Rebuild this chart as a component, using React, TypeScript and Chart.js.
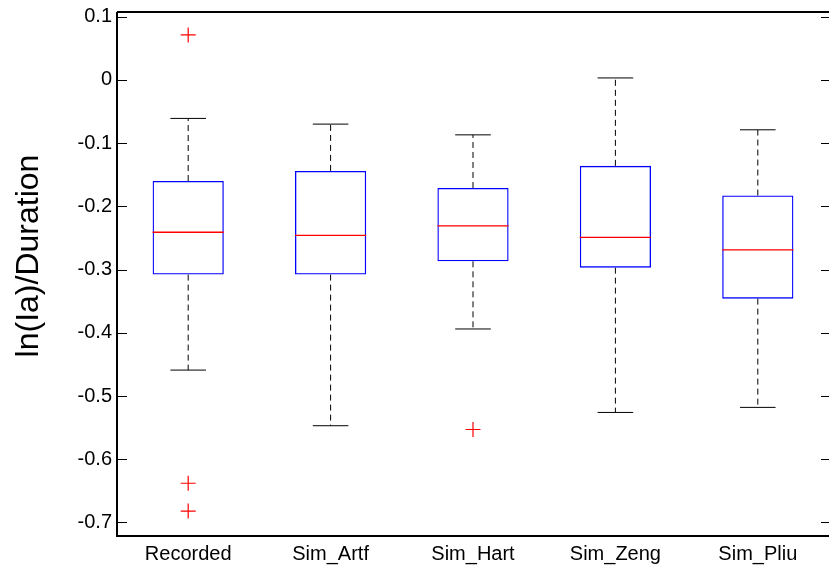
import React, { useEffect, useRef } from "react";
import { Chart, registerables } from "chart.js";

Chart.register(...registerables);

const categories = ["Recorded", "Sim_Artf", "Sim_Hart", "Sim_Zeng", "Sim_Pliu"];
const lowerWhisker = [-0.459, -0.547, -0.394, -0.526, -0.518];
const q1 = [-0.308, -0.308, -0.287, -0.297, -0.346];
const median = [-0.241, -0.246, -0.231, -0.249, -0.269];
const q3 = [-0.160, -0.144, -0.171, -0.136, -0.183];
const upperWhisker = [-0.061, -0.070, -0.087, 0.003, -0.079];
const outliers: number[][] = [[0.071, -0.638, -0.682], [], [-0.553], [], []];
const yTickValues = [0.1, 0, -0.1, -0.2, -0.3, -0.4, -0.5, -0.6, -0.7];
const yTitle = "ln(Ia)/Duration";

const FONT = "'Liberation Sans', Arial, sans-serif";

export default function App() {
  const ref = useRef<HTMLCanvasElement>(null);
  useEffect(() => {
    if (!ref.current) return;
    const whiskerData: any[] = [];
    const capData: any[] = [];
    const medianData: any[] = [];
    categories.forEach((_, i) => {
      const x = i + 1;
      whiskerData.push({ x, y: q3[i] }, { x, y: upperWhisker[i] }, { x, y: null });
      whiskerData.push({ x, y: q1[i] }, { x, y: lowerWhisker[i] }, { x, y: null });
      capData.push({ x: x - 0.125, y: upperWhisker[i] }, { x: x + 0.125, y: upperWhisker[i] }, { x, y: null });
      capData.push({ x: x - 0.125, y: lowerWhisker[i] }, { x: x + 0.125, y: lowerWhisker[i] }, { x, y: null });
      medianData.push({ x: x - 0.25, y: median[i] }, { x: x + 0.25, y: median[i] }, { x, y: null });
    });
    const outlierData: any[] = [];
    outliers.forEach((arr, i) => arr.forEach((v) => outlierData.push({ x: i + 1, y: v })));

    const axesPlugin = {
      id: "matlabAxes",
      afterDatasetsDraw(chart: any) {
        const { ctx, chartArea } = chart;
        const ys = chart.scales.y;
        ctx.save();
        ctx.strokeStyle = "#000";
        ctx.lineWidth = 1;
        yTickValues.forEach((v) => {
          const py = Math.round(ys.getPixelForValue(v)) + 0.5;
          ctx.beginPath();
          ctx.moveTo(chartArea.left, py);
          ctx.lineTo(chartArea.left + 10, py);
          ctx.moveTo(chartArea.right + 1, py);
          ctx.lineTo(chartArea.right - 8, py);
          ctx.stroke();
        });
        ctx.lineWidth = 2;
        ctx.beginPath();
        ctx.moveTo(chartArea.left, chartArea.top);
        ctx.lineTo(chartArea.right + 2, chartArea.top);
        ctx.moveTo(chartArea.left, chartArea.top);
        ctx.lineTo(chartArea.left, chartArea.bottom);
        ctx.moveTo(chartArea.left - 1, chartArea.bottom);
        ctx.lineTo(chartArea.right + 2, chartArea.bottom);
        ctx.stroke();
        // y axis title
        ctx.translate(38, 256);
        ctx.rotate(-Math.PI / 2);
        ctx.fillStyle = "#000";
        ctx.font = `32px ${FONT}`;
        ctx.textAlign = "center";
        ctx.textBaseline = "alphabetic";
        ctx.fillText(yTitle, 0, 0);
        ctx.restore();
      },
    };

    const chart = new Chart(ref.current, {
      type: "bar",
      data: {
        datasets: [
          {
            type: "line",
            data: whiskerData,
            borderColor: "#000",
            borderWidth: 1,
            borderDash: [6, 4],
            pointRadius: 0,
            spanGaps: false,
            fill: false,
            order: 5,
          } as any,
          {
            type: "line",
            data: capData,
            borderColor: "#000",
            borderWidth: 1,
            pointRadius: 0,
            spanGaps: false,
            fill: false,
            order: 4,
          } as any,
          {
            type: "bar",
            data: categories.map((_, i) => ({ x: i + 1, y: [q1[i], q3[i]] })),
            borderColor: "#0000ff",
            borderWidth: 1.3,
            backgroundColor: "rgba(0,0,0,0)",
            borderSkipped: false,
            barPercentage: 0.5,
            categoryPercentage: 1,
            order: 3,
          } as any,
          {
            type: "line",
            data: medianData,
            borderColor: "#ff0000",
            borderWidth: 1.3,
            pointRadius: 0,
            spanGaps: false,
            fill: false,
            order: 2,
          } as any,
          {
            type: "scatter",
            data: outlierData,
            pointStyle: "cross",
            pointRadius: 7.5,
            borderColor: "#ff0000",
            borderWidth: 1.2,
            order: 1,
          } as any,
        ],
      },
      options: {
        responsive: false,
        animation: false,
        layout: { autoPadding: false, padding: { top: 12, left: 0, right: 0, bottom: 0 } },
        plugins: { legend: { display: false }, tooltip: { enabled: false } },
        scales: {
          x: {
            type: "linear",
            min: 0.5,
            max: 5.5,
            offset: false,
            grid: { display: false, drawTicks: false, offset: false },
            border: { display: false },
            afterBuildTicks: (scale: any) => {
              scale.ticks = categories.map((_, i) => ({ value: i + 1 }));
            },
            afterFit: (scale: any) => {
              scale.height = 30;
              scale.paddingLeft = 0;
              scale.paddingRight = 0;
            },
            ticks: {
              autoSkip: false,
              maxRotation: 0,
              padding: 6,
              color: "#000",
              font: { family: FONT, size: 20 },
              callback: (v: any) => categories[Math.round(Number(v)) - 1] ?? "",
            },
          },
          y: {
            type: "linear",
            min: -0.7214,
            max: 0.1073,
            grid: { display: false, drawTicks: false },
            border: { display: false },
            afterBuildTicks: (scale: any) => {
              scale.ticks = yTickValues.map((v) => ({ value: v }));
            },
            afterFit: (scale: any) => {
              scale.width = 117;
              scale.paddingTop = 0;
              scale.paddingBottom = 0;
            },
            ticks: {
              autoSkip: false,
              padding: 5,
              color: "#000",
              font: { family: FONT, size: 20 },
              callback: (v: any) => {
                const n = Math.round(Number(v) * 10) / 10;
                return n === 0 ? "0" : String(n);
              },
            },
          },
        },
      },
      plugins: [axesPlugin],
    });
    return () => chart.destroy();
  }, []);

  return (
    <div style={{ position: "fixed", left: 0, top: 0, width: 829, height: 566, background: "#fff" }}>
      <canvas ref={ref} width={829} height={566} style={{ display: "block" }} />
    </div>
  );
}
